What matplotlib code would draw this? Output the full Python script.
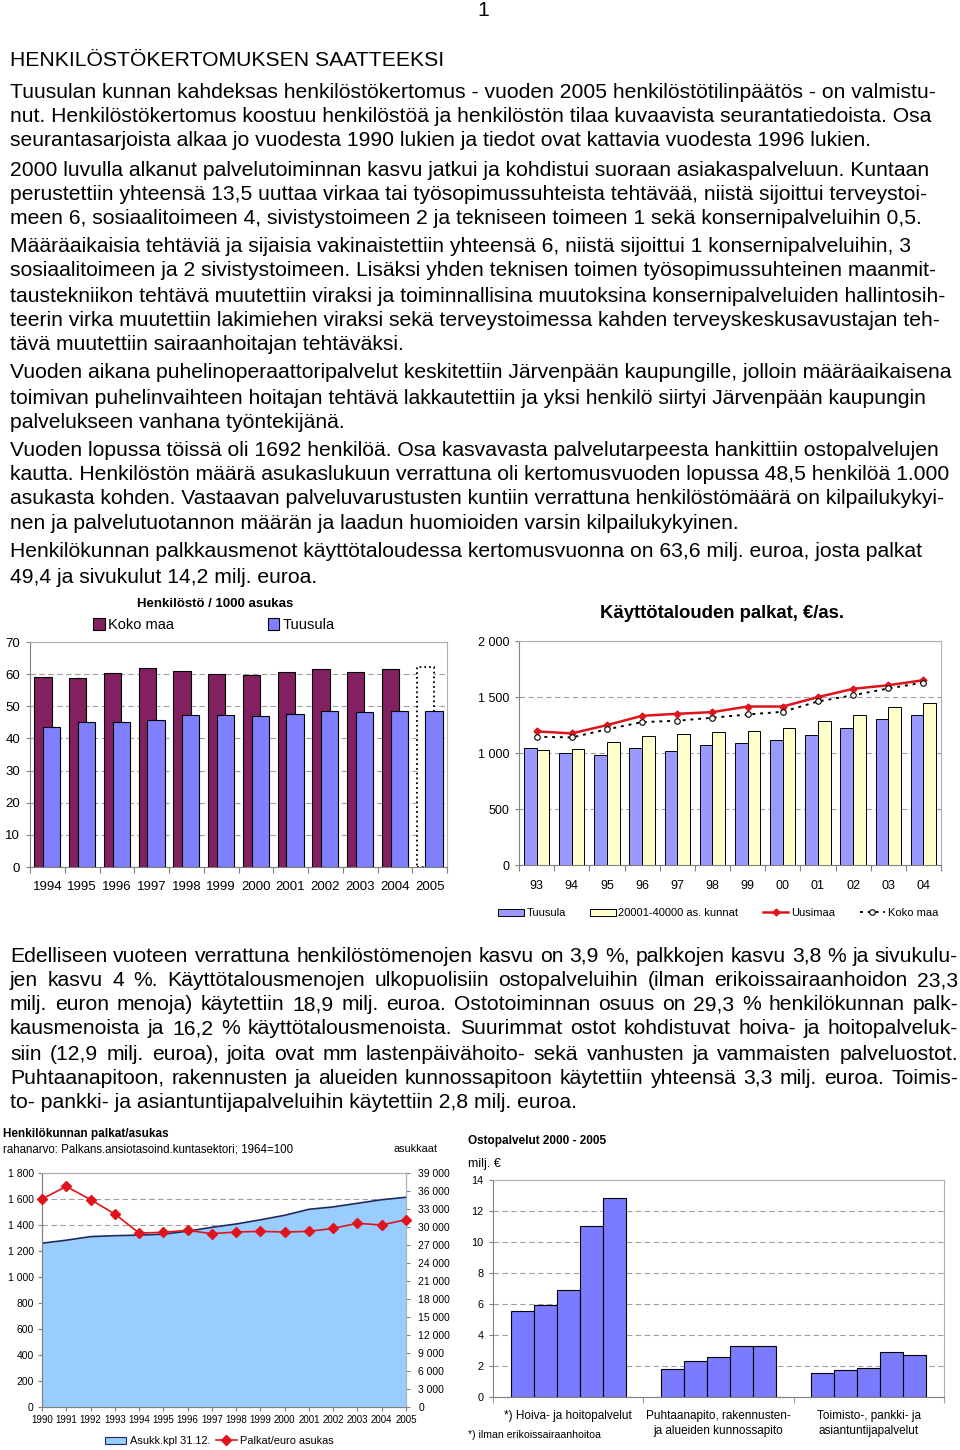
import numpy as np
import matplotlib
matplotlib.use('Agg')
import matplotlib.pyplot as plt
from matplotlib.lines import Line2D
from matplotlib.patches import Patch

# ---- page text ----
heading = 'HENKILÖSTÖKERTOMUKSEN SAATTEEKSI'
block1 = [
    (92, 'Tuusulan kunnan kahdeksas henkilöstökertomus - vuoden 2005 henkilöstötilinpäätös - on valmistu-'),
    (116, 'nut. Henkilöstökertomus koostuu henkilöstöä ja henkilöstön tilaa kuvaavista seurantatiedoista. Osa'),
    (141, 'seurantasarjoista alkaa jo vuodesta 1990 lukien ja tiedot ovat kattavia vuodesta 1996 lukien.'),
    (170, '2000 luvulla alkanut palvelutoiminnan kasvu jatkui ja kohdistui suoraan asiakaspalveluun. Kuntaan'),
    (195, 'perustettiin yhteensä 13,5 uuttaa virkaa tai työsopimussuhteista tehtävää, niistä sijoittui terveystoi-'),
    (219, 'meen 6, sosiaalitoimeen 4, sivistystoimeen 2 ja tekniseen toimeen 1 sekä konsernipalveluihin 0,5.'),
    (247, 'Määräaikaisia tehtäviä ja sijaisia vakinaistettiin yhteensä 6, niistä sijoittui 1 konsernipalveluihin, 3'),
    (271, 'sosiaalitoimeen ja 2 sivistystoimeen. Lisäksi yhden teknisen toimen työsopimussuhteinen maanmit-'),
    (296, 'taustekniikon tehtävä muutettiin viraksi ja toiminnallisina muutoksina konsernipalveluiden hallintosih-'),
    (320, 'teerin virka muutettiin lakimiehen viraksi sekä terveystoimessa kahden terveyskeskusavustajan teh-'),
    (345, 'tävä muutettiin sairaanhoitajan tehtäväksi.'),
    (373, 'Vuoden aikana puhelinoperaattoripalvelut keskitettiin Järvenpään kaupungille, jolloin määräaikaisena'),
    (398, 'toimivan puhelinvaihteen hoitajan tehtävä lakkautettiin ja yksi henkilö siirtyi Järvenpään kaupungin'),
    (422, 'palvelukseen vanhana työntekijänä.'),
    (451, 'Vuoden lopussa töissä oli 1692 henkilöä. Osa kasvavasta palvelutarpeesta hankittiin ostopalvelujen'),
    (475, 'kautta. Henkilöstön määrä asukaslukuun verrattuna oli kertomusvuoden lopussa 48,5 henkilöä 1.000'),
    (499, 'asukasta kohden. Vastaavan palveluvarustusten kuntiin verrattuna henkilöstömäärä on kilpailukykyi-'),
    (524, 'nen ja palvelutuotannon määrän ja laadun huomioiden varsin kilpailukykyinen.'),
    (552, 'Henkilökunnan palkkausmenot käyttötaloudessa kertomusvuonna on 63,6 milj. euroa, josta palkat'),
    (577, '49,4 ja sivukulut 14,2 milj. euroa.'),
]
block2 = [
    (956, 'Edelliseen vuoteen verrattuna henkilöstömenojen kasvu on 3,9 %, palkkojen kasvu 3,8 % ja sivukulu-'),
    (981, 'jen kasvu 4 %. Käyttötalousmenojen ulkopuolisiin ostopalveluihin (ilman erikoissairaanhoidon 23,3'),
    (1005, 'milj. euron menoja) käytettiin 18,9 milj. euroa. Ostotoiminnan osuus on 29,3 % henkilökunnan palk-'),
    (1029, 'kausmenoista ja 16,2 % käyttötalousmenoista. Suurimmat ostot kohdistuvat hoiva- ja hoitopalveluk-'),
    (1054, 'siin (12,9 milj. euroa), joita ovat mm lastenpäivähoito- sekä vanhusten ja vammaisten palveluostot.'),
    (1078, 'Puhtaanapitoon, rakennusten ja alueiden kunnossapitoon käytettiin yhteensä 3,3 milj. euroa. Toimis-'),
    (1103, 'to- pankki- ja asiantuntijapalveluihin käytettiin 2,8 milj. euroa.'),
]

# ---- chart 1: Henkilöstö / 1000 asukas ----
years1 = ['1994', '1995', '1996', '1997', '1998', '1999', '2000', '2001', '2002', '2003', '2004', '2005']
koko1 = [59.2, 58.8, 60.3, 61.9, 61.1, 60.0, 59.6, 60.7, 61.5, 60.7, 61.5]
koko1_2005 = 62.2
tuus1 = [43.6, 45.0, 45.0, 45.8, 47.3, 47.3, 47.0, 47.7, 48.5, 48.1, 48.5, 48.5]

# ---- chart 2: Käyttötalouden palkat ----
years2 = ['93', '94', '95', '96', '97', '98', '99', '00', '01', '02', '03', '04']
tuus2 = [1045, 997, 982, 1045, 1015, 1068, 1086, 1113, 1163, 1220, 1303, 1338]
kunnat2 = [1030, 1036, 1095, 1151, 1169, 1184, 1193, 1220, 1282, 1338, 1409, 1448]
uusimaa2 = [1193, 1175, 1249, 1332, 1350, 1365, 1415, 1415, 1499, 1573, 1605, 1650]
kokomaa2 = [1145, 1139, 1211, 1276, 1288, 1315, 1344, 1368, 1460, 1516, 1576, 1629]

# ---- chart 3: Henkilökunnan palkat/asukas ----
years3 = list(range(1990, 2006))
asukk3 = [27300, 27800, 28400, 28550, 28650, 28800, 29300, 29950, 30500, 31200,
          31950, 32950, 33350, 33950, 34550, 34950]
palkat3 = [1600, 1697, 1595, 1485, 1338, 1344, 1359, 1333, 1346, 1351,
           1346, 1351, 1374, 1413, 1400, 1441]

# ---- chart 4: Ostopalvelut ----
groups4 = ['*) Hoiva- ja hoitopalvelut', 'Puhtaanapito, rakennusten-\nja alueiden kunnossapito',
           'Toimisto-, pankki- ja\nasiantuntijapalvelut']
years4 = ['2001', '2002', '2003', '2004', '2005']
hoiva4 = [5.52, 5.91, 6.92, 11.04, 12.83]
puhtaanapito4 = [1.79, 2.31, 2.57, 3.32, 3.26]
toimisto4 = [1.53, 1.73, 1.86, 2.89, 2.74]

W, H = 960, 1450
plt.rcParams['font.family'] = ['Liberation Sans', 'DejaVu Sans']
fig = plt.figure(figsize=(9.6, 14.5), dpi=100)
renderer = fig.canvas.get_renderer()


def fx(x):
    return x / W


def fy(y):
    return 1 - y / H


def box(l, t, r, b):
    return [l / W, 1 - b / H, (r - l) / W, (b - t) / H]


BODY = 15.2


def line(y, s, x0=10, x1=None, size=BODY):
    if x1 is None:
        fig.text(fx(x0), fy(y), s, fontsize=size, va='center')
        return
    words = s.split(' ')
    ts = [fig.text(0, fy(y), w, fontsize=size, va='center') for w in words]
    widths = [t.get_window_extent(renderer).width for t in ts]
    gap = (x1 - x0 - sum(widths)) / (len(words) - 1)
    x = x0
    for t, w in zip(ts, widths):
        t.set_x(fx(x))
        x += w + gap


fig.text(fx(483), fy(10), '1', fontsize=BODY, ha='center', va='center')
fig.text(fx(10), fy(60), heading, fontsize=15.2, va='center')
for y, s in block1:
    line(y, s)
for i, (y, s) in enumerate(block2):
    line(y, s, x1=958 if i < len(block2) - 1 else None)

GRID = dict(color='#A0A0A0', lw=0.8, ls=(0, (5, 3)))


def frame(ax):
    for k in ['top', 'right']:
        ax.spines[k].set_color('#B0B0B0')
    for k in ['left', 'bottom']:
        ax.spines[k].set_color('#808080')


# chart 1
ax1 = fig.add_axes(box(30, 642, 447, 867))
x1 = np.arange(len(years1))
ax1.bar(x1[:11] - 0.125, koko1, 0.5, color='#822060', edgecolor='black', lw=0.8, zorder=2)
ax1.bar(x1[11] - 0.125, koko1_2005, 0.5, facecolor='white', edgecolor='black', ls=':', lw=1.3, zorder=2)
ax1.bar(x1 + 0.125, tuus1, 0.5, color='#8080FF', edgecolor='black', lw=0.8, zorder=3)
ax1.set_xlim(-0.5, 11.5)
ax1.set_ylim(0, 70)
ax1.set_yticks(range(0, 71, 10))
ax1.yaxis.grid(True, **GRID)
ax1.set_axisbelow(True)
ax1.set_xticks(np.arange(-0.5, 12, 1))
ax1.set_xticklabels([])
ax1.set_xticks(x1, minor=True)
ax1.set_xticklabels(years1, minor=True)
ax1.tick_params(axis='x', which='major', length=4, color='#808080')
ax1.tick_params(axis='x', which='minor', length=0, pad=10, labelsize=9.5)
ax1.tick_params(axis='y', length=3, color='#808080', labelsize=9.5, pad=4)
frame(ax1)
fig.text(fx(215), fy(604), 'Henkilöstö / 1000 asukas', fontsize=9.5, fontweight='bold',
         ha='center', va='center')
h1 = [Patch(facecolor='#822060', edgecolor='black', lw=0.8),
      Patch(facecolor='#8080FF', edgecolor='black', lw=0.8)]
fig.legend(h1, ['Koko maa', 'Tuusula'], loc='center left', bbox_to_anchor=(fx(93), fy(625)),
           ncol=2, frameon=False, fontsize=10.5, handlelength=0.8, handleheight=0.8,
           handletextpad=0.25, columnspacing=6.4, borderpad=0, borderaxespad=0)

# chart 2
ax2 = fig.add_axes(box(519, 641, 941, 865))
x2 = np.arange(len(years2))
ax2.bar(x2 - 0.18, tuus2, 0.36, color='#9999FF', edgecolor='black', lw=0.7, zorder=2)
ax2.bar(x2 + 0.18, kunnat2, 0.36, color='#FFFFCC', edgecolor='black', lw=0.7, zorder=2)
ax2.plot(x2, uusimaa2, color='#E0141C', lw=1.8, marker='D', ms=3.5, zorder=4)
ax2.plot(x2, kokomaa2, color='black', lw=1.4, ls=(0, (1.5, 2.5)), marker='o', ms=4,
         mfc='white', mec='black', mew=0.8, zorder=4)
ax2.set_xlim(-0.5, 11.5)
ax2.set_ylim(0, 2000)
ax2.set_yticks([0, 500, 1000, 1500, 2000])
ax2.set_yticklabels(['0', '500', '1 000', '1 500', '2 000'])
ax2.yaxis.grid(True, **GRID)
ax2.set_axisbelow(True)
ax2.set_xticks(np.arange(-0.5, 12, 1))
ax2.set_xticklabels([])
ax2.set_xticks(x2, minor=True)
ax2.set_xticklabels(years2, minor=True)
ax2.tick_params(axis='x', which='major', length=4, color='#808080')
ax2.tick_params(axis='x', which='minor', length=0, pad=11, labelsize=9)
ax2.tick_params(axis='y', length=3, color='#808080', labelsize=9, pad=4)
frame(ax2)
fig.text(fx(722), fy(613), 'Käyttötalouden palkat, €/as.', fontsize=13.3, fontweight='bold',
         ha='center', va='center')
h2 = [Patch(facecolor='#9999FF', edgecolor='black', lw=0.7),
      Patch(facecolor='#FFFFCC', edgecolor='black', lw=0.7),
      Line2D([], [], color='#E0141C', lw=1.8, marker='D', ms=3.5),
      Line2D([], [], color='black', lw=1.4, ls=(0, (1.5, 2.5)), marker='o', ms=4,
             mfc='white', mec='black', mew=0.8)]
fig.legend(h2, ['Tuusula', '20001-40000 as. kunnat', 'Uusimaa', 'Koko maa'], loc='center left',
           bbox_to_anchor=(fx(498), fy(913)), ncol=4, frameon=False, fontsize=8,
           handlelength=2.3, handleheight=0.6, handletextpad=0.25, columnspacing=2.2,
           borderpad=0, borderaxespad=0)

# chart 3
ax3 = fig.add_axes(box(42, 1173, 406, 1407))
ax3.set_xlim(1990, 2005)
ax3.set_ylim(0, 1800)
ax3.set_yticks(range(0, 1801, 200))
ax3.set_yticklabels(['0' if v == 0 else f'{v:,}'.replace(',', ' ') for v in range(0, 1801, 200)])
ax3.yaxis.grid(True, **GRID)
ax3.set_xticks(years3)
ax3.tick_params(axis='x', length=3, color='#808080', labelsize=7, pad=3)
ax3.tick_params(axis='y', length=3, color='#808080', labelsize=7.5, pad=3)
frame(ax3)
ax3r = ax3.twinx()
ax3r.fill_between(years3, asukk3, color='#99CCFF', lw=0)
ax3r.plot(years3, asukk3, color='#1F2A5A', lw=1.2)
ax3r.set_ylim(0, 39000)
ax3r.set_yticks(range(0, 39001, 3000))
ax3r.set_yticklabels(['0' if v == 0 else f'{v:,}'.replace(',', ' ') for v in range(0, 39001, 3000)])
ax3r.tick_params(axis='y', length=3, color='#808080', labelsize=7.5, pad=6)
frame(ax3r)
ax3t = fig.add_axes(box(42, 1173, 406, 1407), sharex=ax3, sharey=ax3)
ax3t.patch.set_visible(False)
ax3t.axis('off')
ax3t.plot(years3, palkat3, color='#E0141C', lw=1.2, marker='D', ms=5, clip_on=False)
fig.text(fx(3), fy(1134), 'Henkilökunnan palkat/asukas', fontsize=8.5, fontweight='bold', va='center')
fig.text(fx(3), fy(1150), 'rahanarvo: Palkans.ansiotasoind.kuntasektori; 1964=100', fontsize=8.3, va='center')
fig.text(fx(415), fy(1149), 'asukkaat', fontsize=7.8, ha='center', va='center')
h3 = [Patch(facecolor='#99CCFF', edgecolor='#1F2A5A', lw=0.8),
      Line2D([], [], color='#E0141C', lw=1.2, marker='D', ms=5)]
fig.legend(h3, ['Asukk.kpl 31.12.', 'Palkat/euro asukas'], loc='center left',
           bbox_to_anchor=(fx(105), fy(1441)), ncol=2, frameon=False, fontsize=7.9,
           handlelength=1.9, handleheight=0.6, handletextpad=0.35, columnspacing=0.5,
           borderpad=0, borderaxespad=0)

# chart 4
ax4 = fig.add_axes(box(493, 1180, 944, 1397))
x4 = np.arange(len(groups4))
bw = 0.153
for j in range(len(years4)):
    vals = [hoiva4[j], puhtaanapito4[j], toimisto4[j]]
    ax4.bar(x4 + (j - 2) * bw, vals, bw, color='#7B7BFF', edgecolor='black', lw=0.8, zorder=2)
ax4.set_xlim(-0.5, 2.5)
ax4.set_ylim(0, 14)
ax4.set_yticks(range(0, 15, 2))
ax4.yaxis.grid(True, **GRID)
ax4.set_axisbelow(True)
ax4.set_xticks([-0.5, 0.5, 1.5, 2.5])
ax4.set_xticklabels([])
ax4.set_xticks(x4, minor=True)
ax4.set_xticklabels(groups4, minor=True, linespacing=1.35)
ax4.tick_params(axis='x', which='major', length=4, color='#A0A0A0')
ax4.tick_params(axis='x', which='minor', length=0, pad=9, labelsize=8.5)
ax4.tick_params(axis='y', length=3, color='#808080', labelsize=7.8, pad=4)
frame(ax4)
fig.text(fx(468), fy(1141), 'Ostopalvelut 2000 - 2005', fontsize=8.5, fontweight='bold', va='center')
fig.text(fx(468), fy(1164), 'milj. €', fontsize=9, va='center')
fig.text(fx(468), fy(1435), '*) ilman erikoissairaanhoitoa', fontsize=7.6, va='center')

fig.savefig('out.png', dpi=100)
